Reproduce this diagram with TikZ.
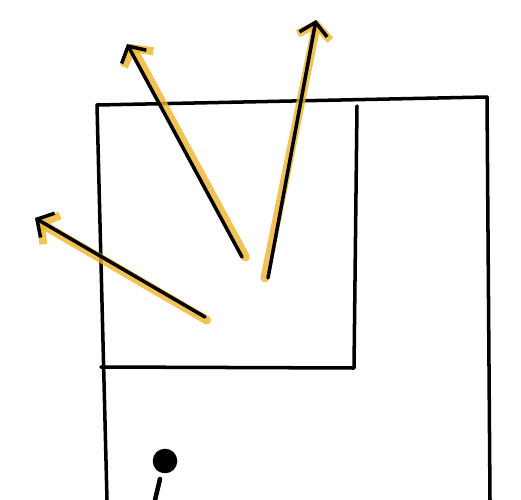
\documentclass[tikz,border=0pt]{standalone}
\usepackage{xcolor}
\usepackage{tikz}
\usetikzlibrary{arrows.meta}

\definecolor{marker}{HTML}{EDB42C}

\begin{document}
\begin{tikzpicture}[
    x=0.02cm, y=-0.02cm,
    ink/.style={line width=2pt, line cap=round, line join=round},
    ray/.style={ink, -{Straight Barb[length=7pt,width=16pt,line width=2pt]}},
    glow/.style={line width=5pt, marker, opacity=0.8, line cap=round,
        -{Straight Barb[length=7pt,width=19pt,line width=4.5pt]}}
]
\useasboundingbox (0,0) rectangle (521,500);

% room outline
\coordinate (tl) at (97,105);
\coordinate (tr) at (487,97);
\coordinate (br) at (490,500);
\coordinate (bl) at (107,500);
\coordinate (st) at (357,106);
\coordinate (sb) at (354,368);
\coordinate (sl) at (101,367);
\draw[ink] (bl) -- (tl) -- (tr) -- (br);
\draw[ink] (st) -- (sb) -- (sl);

% rays
\coordinate (a1) at (205,317);
\coordinate (b1) at (35,218);
\coordinate (a2) at (242,257);
\coordinate (b2) at (127,44);
\coordinate (a3) at (268,278);
\coordinate (b3) at (316,20);
\draw[glow] ([xshift=1pt,yshift=-1.8pt]a1) -- ([xshift=1pt,yshift=-1.8pt]b1);
\draw[glow] ([xshift=2pt]a2) -- ([xshift=2pt]b2);
\draw[glow] ([xshift=-1.8pt]a3) -- ([xshift=0.8pt]b3);
\draw[ray] (a1) -- (b1);
\draw[ray] (a2) -- (b2);
\draw[ray] (a3) -- (b3);

% person
\node[circle, fill, inner sep=0pt, minimum size=14pt] (head) at (165,461) {};
\coordinate (neck) at (160,479);
\coordinate (foot) at (155,500);
\draw[ink, line width=2.6pt] (neck) -- (foot);
\end{tikzpicture}
\end{document}
